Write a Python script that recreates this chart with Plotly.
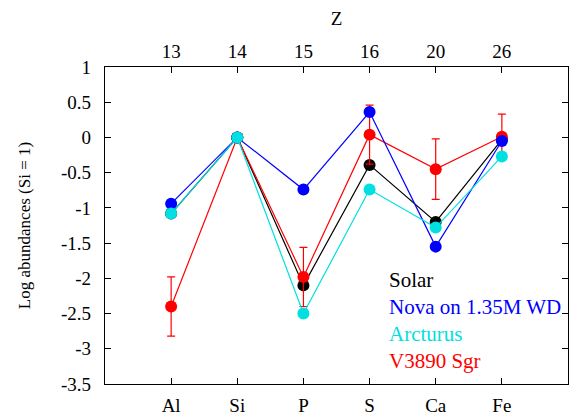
import glob
import base64
import plotly.graph_objects as go

elements = ["Al", "Si", "P", "S", "Ca", "Fe"]
z_numbers = ["13", "14", "15", "16", "20", "26"]
positions = [1, 2, 3, 4, 5, 6]

solar = [-1.08, 0.0, -2.10, -0.39, -1.20, -0.03]
nova = [-0.94, 0.0, -0.74, 0.36, -1.55, -0.05]
arcturus = [-1.08, 0.0, -2.50, -0.74, -1.28, -0.27]
v3890 = [-2.40, 0.0, -1.98, 0.04, -0.45, 0.01]
v3890_err = [0.42, 0.0, 0.42, 0.42, 0.43, 0.32]

series_names = ["Solar", "Nova on 1.35M WD", "Arcturus", "V3890 Sgr"]
colors = {"Solar": "#000000", "Nova on 1.35M WD": "#0000ff",
          "Arcturus": "#00e0e0", "V3890 Sgr": "#ff0000"}

font_file = None
for pattern in ["/usr/share/fonts/**/LiberationSerif-Regular.ttf",
                "/usr/local/share/fonts/**/LiberationSerif-Regular.ttf",
                "/usr/share/fonts/**/*iberation*erif*egular*.ttf"]:
    found = glob.glob(pattern, recursive=True)
    if found:
        font_file = found[0]
        break

FONT = "'Liberation Serif', LibSerifEmb, 'Times New Roman', 'DejaVu Serif', serif"

fig = go.Figure()

def add(name, y, err=None):
    c = colors[name]
    kw = {}
    if err is not None:
        kw["error_y"] = dict(type="data", array=err, visible=True,
                             color=c, thickness=1.2, width=4)
    fig.add_trace(go.Scatter(
        x=positions, y=y, mode="lines+markers", name=name,
        line=dict(color=c, width=1.2),
        marker=dict(color=c, size=12),
        showlegend=False, **kw))

add("Solar", solar)
add("V3890 Sgr", v3890, v3890_err)
add("Nova on 1.35M WD", nova)
add("Arcturus", arcturus)

fig.add_trace(go.Scatter(x=positions, y=solar, xaxis="x2", mode="none",
                         showlegend=False, hoverinfo="skip"))

legend_y = [-2.02, -2.40, -2.79, -3.17]
for name, yv in zip(series_names, legend_y):
    fig.add_annotation(x=4.26, y=yv, xref="x", yref="y", text=name,
                       showarrow=False, xanchor="left", yanchor="middle",
                       font=dict(family=FONT, size=21, color=colors[name]))

axis_common = dict(showgrid=False, zeroline=False, ticks="inside",
                   ticklen=6, tickcolor="black", automargin=False,
                   tickfont=dict(family=FONT, size=19, color="black"))

fig.update_layout(
    width=571, height=416,
    margin=dict(l=105, r=3, t=67, b=32, autoexpand=False),
    plot_bgcolor="white", paper_bgcolor="white",
    font=dict(family=FONT, size=18, color="black"),
    xaxis=dict(range=[0, 7], tickvals=positions, ticktext=elements,
               showline=True, mirror=True, linecolor="black", linewidth=1.2,
               ticklabelstandoff=4, **axis_common),
    xaxis2=dict(range=[0, 7], tickvals=positions, ticktext=z_numbers,
                overlaying="x", side="top", showline=False,
                ticklabelstandoff=4,
                title=dict(text="Z", font=dict(family=FONT, size=19), standoff=10),
                **axis_common),
    yaxis=dict(range=[-3.5, 1], tickvals=[1, 0.5, 0, -0.5, -1, -1.5, -2, -2.5, -3, -3.5],
               ticktext=["1", "0.5", "0", "-0.5", "-1", "-1.5", "-2", "-2.5", "-3", "-3.5"],
               showline=True, mirror="ticks", linecolor="black", linewidth=1.2,
               ticklabelstandoff=9,
               title=dict(text="Log abundances (Si = 1)", font=dict(family=FONT, size=17), standoff=26),
               **axis_common),
)

post = "document.body.style.margin='0';"
if font_file:
    with open(font_file, "rb") as fh:
        b64 = base64.b64encode(fh.read()).decode("ascii")
    post += (
        "var st=document.createElement('style');"
        "st.textContent=\"@font-face{font-family:'LibSerifEmb';font-display:swap;"
        "src:url(data:font/ttf;base64,"
        + b64 +
        ") format('truetype');}\";"
        "document.head.appendChild(st);"
    )

fig.write_html("out.html", config={"displayModeBar": False}, post_script=post)
